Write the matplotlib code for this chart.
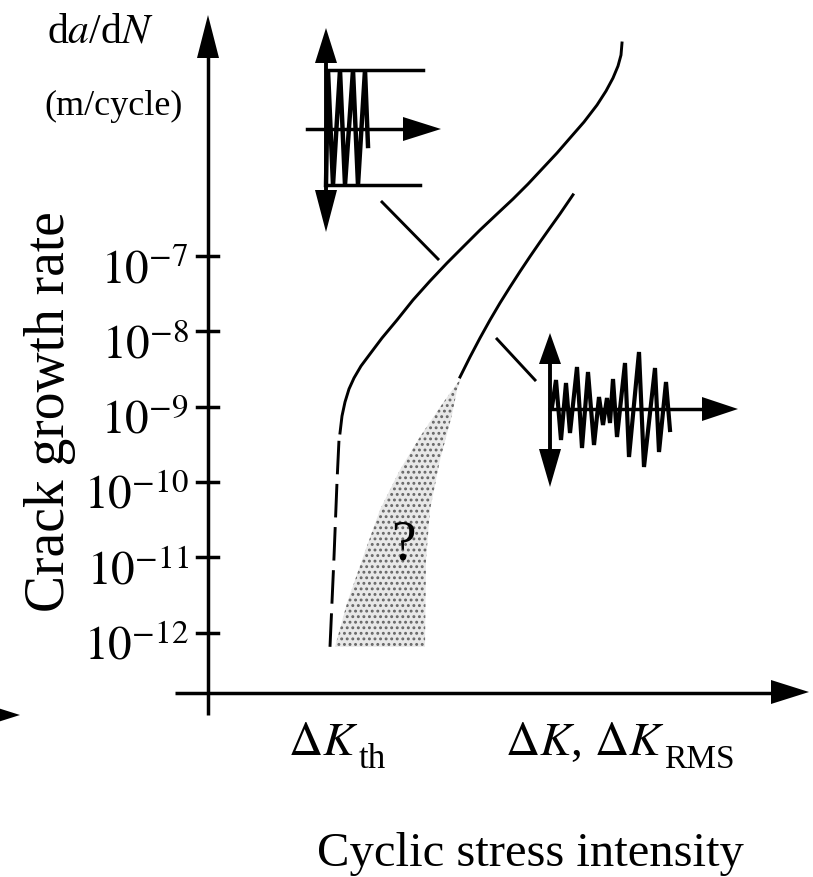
import matplotlib
matplotlib.use("Agg")
import matplotlib.pyplot as plt
import matplotlib.transforms as mtransforms

plt.rcParams['font.family'] = ['Liberation Serif', 'DejaVu Serif']
plt.rcParams['mathtext.fontset'] = 'stix'
plt.rcParams['hatch.linewidth'] = 1.3

# --- data (x: cyclic stress intensity, arbitrary units; y: log10 of da/dN) ---
tick_exponents = [-7, -8, -9, -10, -11, -12]

# constant amplitude curve (solid part)
ca_x = [340, 342, 345, 349, 354, 361, 370, 382, 397, 413, 430, 447, 463, 480,
        497, 513, 528, 543, 557, 570, 584, 597, 606, 613, 618, 621, 622]
ca_e = [-9.351, -9.125, -8.939, -8.766, -8.620, -8.461, -8.301, -8.089,
        -7.850, -7.584, -7.332, -7.093, -6.880, -6.655, -6.442, -6.243,
        -6.044, -5.831, -5.632, -5.433, -5.220, -4.995, -4.809, -4.636,
        -4.477, -4.331, -4.171]
# near-threshold (dashed) part
th_x = [330, 334, 337, 339]
th_e = [-12.19, -11.0, -10.0, -9.44]
# variable amplitude (RMS) curve
va_x = [460, 470, 480, 490, 500, 510, 520, 530, 540, 550, 560, 573]
va_e = [-8.607, -8.341, -8.089, -7.850, -7.624, -7.412, -7.206, -7.007,
        -6.814, -6.626, -6.440, -6.187]
# uncertain region below the RMS curve
q_x = [335, 347, 363, 380, 400, 420, 443, 461, 457, 452, 440, 430, 426, 425]
q_e = [-12.19, -11.61, -11.00, -10.37, -9.84, -9.40, -8.95, -8.62,
       -8.78, -9.11, -9.71, -10.37, -11.04, -12.19]

# loading pictograms: time / amplitude
const_t = [0, 2, 7, 14, 19, 27, 32, 39, 42]
const_a = [-57, 58, -57, 58, -57, 58, -57, 58, -18]
rand_t = [2, 6, 11, 16, 20, 27, 32, 38, 44, 49, 53, 57, 60, 63, 67, 75, 79,
          89, 94, 105, 109, 116, 120]
rand_a = [2, 29, -31, 26, -24, 42, -39, 37, -36, 12, -16, 11, -14, 30, -28,
          46, -48, 57, -58, 41, -43, 27, -21]

fig = plt.figure(figsize=(8.13, 8.77), dpi=100)

ax = fig.add_axes([0, 0, 1, 1])
ax.set_yscale('log')
ax.set_xlim(0, 813)
ax.set_ylim(10 ** -15.247, 10 ** -3.600)
ax.axis('off')

ov = fig.add_axes([0, 0, 1, 1], zorder=2)
ov.set_xlim(0, 813)
ov.set_ylim(877, 0)
ov.axis('off')
ov.patch.set_alpha(0)

k = 'black'
lw_ax = 2.5

# axes with arrows
ov.plot([208, 208], [50, 715], color=k, lw=lw_ax, solid_capstyle='butt')
ov.fill([208, 197, 219], [15, 58, 58], color=k, lw=0)
ov.plot([175, 775], [693, 693], color=k, lw=lw_ax, solid_capstyle='butt')
ov.fill([809, 771, 771], [692, 680, 704], color=k, lw=0)
ov.fill([20, -18, -18], [715, 703, 727], color=k, lw=0)

# ticks and tick labels
lab_off = mtransforms.ScaledTranslation(0, -27 / 100, fig.dpi_scale_trans)
for e in tick_exponents:
    ax.plot([197, 218], [10.0 ** e, 10.0 ** e], color=k, lw=lw_ax)
    ax.text(189, 10.0 ** e, r'$10^{%d}$' % e, ha='right', va='baseline',
            fontsize=34, transform=ax.transData + lab_off)

# curves
ax.fill(q_x, [10.0 ** e for e in q_e], facecolor='#e8e8e8',
        edgecolor='#666666', hatch='...', lw=0)
ax.plot(ca_x, [10.0 ** e for e in ca_e], color=k, lw=2.1)
ax.plot(th_x, [10.0 ** e for e in th_e], color=k, lw=2.1,
        linestyle=(0, (11.5, 3.3)))
ax.plot(va_x, [10.0 ** e for e in va_e], color=k, lw=2.1)
ov.text(403, 546, '?', ha='center', va='center', fontsize=40)

# leader lines
ov.plot([382, 438], [202, 259], color=k, lw=2.1)
ov.plot([497, 535], [339, 380], color=k, lw=2.1)

# constant amplitude pictogram
x0, y0 = 326, 128
ov.plot([x0, x0], [50, 200], color=k, lw=2.8)
ov.fill([x0, x0 - 11, x0 + 11], [28, 63, 63], color=k, lw=0)
ov.fill([x0, x0 - 11, x0 + 11], [232, 190, 190], color=k, lw=0)
ov.plot([x0, 423], [y0 - 58, y0 - 58], color=k, lw=2.5)
ov.plot([x0, 420], [y0 + 57, y0 + 57], color=k, lw=2.5)
ov.plot([307, 410], [y0 + 1, y0 + 1], color=k, lw=2.5)
ov.fill([441, 403, 403], [y0 + 1, y0 - 11, y0 + 13], color=k, lw=0)
ov.plot([x0 + t for t in const_t], [y0 - a for a in const_a], color=k,
        lw=3.2, solid_joinstyle='miter')

# variable amplitude pictogram
x1, y1 = 550, 409
ov.plot([x1, x1], [350, 470], color=k, lw=2.8)
ov.fill([x1, x1 - 11, x1 + 11], [333, 364, 364], color=k, lw=0)
ov.fill([x1, x1 - 11, x1 + 11], [487, 449, 449], color=k, lw=0)
ov.plot([x1, 710], [y1, y1], color=k, lw=2.5)
ov.fill([738, 702, 702], [y1, y1 - 12, y1 + 12], color=k, lw=0)
ov.plot([x1 + t for t in rand_t], [y1 - a for a in rand_a], color=k,
        lw=3.0, solid_joinstyle='miter')

# labels
ov.text(100, 32, r'd$a$/d$N$', ha='center', va='center', fontsize=30)
ov.text(114, 106, '(m/cycle)', ha='center', va='center', fontsize=26)
ov.text(50, 412, 'Crack growth rate', rotation=90, ha='center', va='center',
        fontsize=40)

t_th = ov.text(288, 755, r'$\Delta K$', ha='left', va='baseline', fontsize=34)
ov.annotate('th', xy=(1, 0), xycoords=t_th, xytext=(0, -2),
            textcoords='offset points', ha='left', va='baseline', fontsize=25)
t_rms = ov.text(505, 755, r'$\Delta K$, $\Delta K$', ha='left', va='baseline',
                fontsize=34)
ov.annotate('RMS', xy=(1, 0), xycoords=t_rms, xytext=(0, -2),
            textcoords='offset points', ha='left', va='baseline', fontsize=24)

ov.text(530, 866, 'Cyclic stress intensity', ha='center', va='baseline',
        fontsize=35)

fig.savefig('out.png', dpi=100)
